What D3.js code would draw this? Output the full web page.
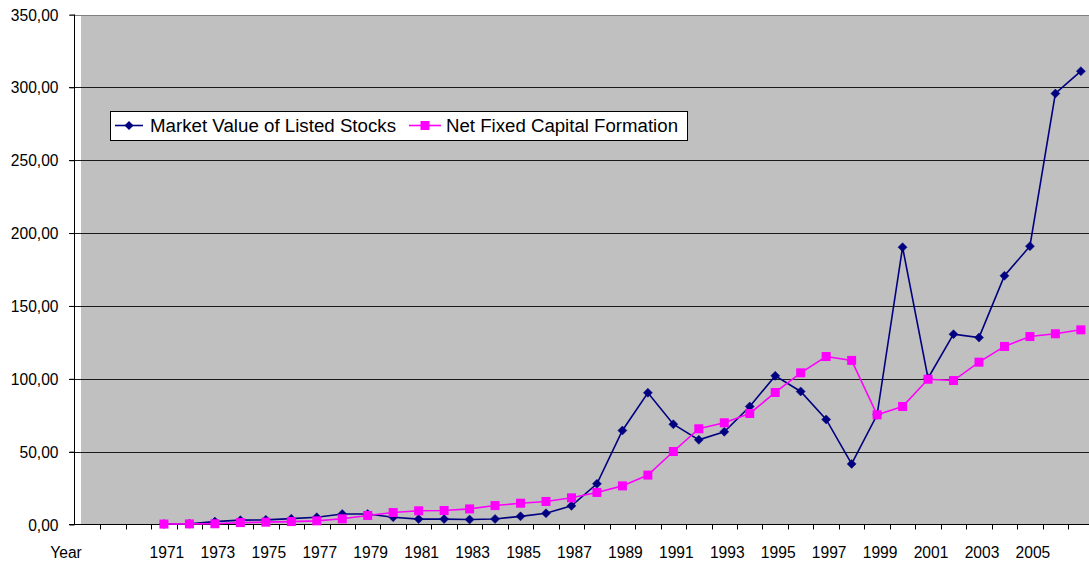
<!DOCTYPE html>
<html>
<head>
<meta charset="utf-8">
<script src="https://cdn.jsdelivr.net/npm/d3@7/dist/d3.min.js"></script>
<style>
  html, body { margin: 0; padding: 0; background: #fff; }
  svg { display: block; font-family: "Liberation Sans", Arial, sans-serif; }
</style>
</head>
<body>
<svg id="chart" width="1089" height="566"></svg>
<script>
// ---- data ----
const leadCategories = ["Year", "", ""];
const years = [1971,1972,1973,1974,1975,1976,1977,1978,1979,1980,
               1981,1982,1983,1984,1985,1986,1987,1988,1989,1990,
               1991,1992,1993,1994,1995,1996,1997,1998,1999,2000,
               2001,2002,2003,2004,2005,2006,2007];
const marketValue = [0.3,0.5,2.0,3.0,3.2,4.0,5.0,7.2,7.2,5.0,
                     3.7,3.7,3.4,3.8,5.6,7.7,12.8,27.9,64.5,90.4,
                     68.8,58.1,63.6,81.0,102.0,91.3,72.1,41.6,75.3,190.3,
                     100.4,130.6,128.3,170.7,191.0,295.8,311.1];
const netFixedCapital = [0.3,0.4,0.5,1.3,1.6,2.0,2.5,3.9,6.2,8.2,
                         9.4,9.6,10.7,13.0,14.6,15.8,18.3,22.0,26.5,33.9,
                         50.1,65.7,69.8,76.2,90.6,104.1,115.3,112.6,75.3,81.0,
                         99.7,98.8,111.4,122.2,129.0,130.9,133.6];
const yTicks = [0,50,100,150,200,250,300,350];
const seriesNames = ["Market Value of Listed Stocks", "Net Fixed Capital Formation"];
const xLabelYears = [1971,1973,1975,1977,1979,1981,1983,1985,1987,1989,1991,1993,1995,1997,1999,2001,2003,2005];

// ---- layout ----
const svg = d3.select("#chart");
const W = 1089, H = 566;
const axisX = 74.5, baseY = 524.5, topY = 14.5;
const catW = 25.47;
const categories = leadCategories.map((d,i)=> d === "" ? "_" + i : d).concat(years.map(String));

const x = d3.scaleBand().domain(categories).range([74.8, 74.8 + catW * categories.length]).padding(0);
const y = d3.scaleLinear().domain([0, 350]).range([baseY, topY]);
const cx = yr => x(String(yr)) + x.bandwidth() / 2;
const fmt = v => d3.format(".2f")(v).replace(".", ",");
const fs = 15.6;

svg.append("rect").attr("width", W).attr("height", H).attr("fill", "#fff");

// plot area fill
svg.append("rect").attr("x", 81).attr("y", 16).attr("width", W - 81).attr("height", baseY - 16)
   .attr("fill", "#c0c0c0");

// gridlines
svg.append("g").selectAll("line").data(yTicks.filter(t => t > 0)).join("line")
   .attr("x1", 69).attr("x2", W)
   .attr("y1", d => Math.round(y(d)) + 0.5).attr("y2", d => Math.round(y(d)) + 0.5)
   .attr("stroke", d => d === 350 ? "#808080" : "#1a1a1a").attr("stroke-width", 1);

// y axis
const yAxis = d3.axisLeft(y).tickValues(yTicks).tickSize(5).tickFormat(fmt);
const gy = svg.append("g").attr("transform", `translate(${axisX},0)`).call(yAxis);
gy.select(".domain").attr("stroke", "#000").attr("d", `M0,${topY}V${baseY}`);
gy.selectAll(".tick line").attr("stroke", "#000");
gy.selectAll(".tick text").attr("x", -16).attr("dy", "0.36em")
  .attr("font-size", fs).attr("font-family", "Liberation Sans, Arial, sans-serif").attr("fill", "#000");

// x axis line + ticks
svg.append("line").attr("x1", 69).attr("x2", W).attr("y1", baseY).attr("y2", baseY).attr("stroke", "#000");
svg.append("g").selectAll("line").data(categories.slice(1)).join("line")
   .attr("x1", d => Math.round(x(d)) + 0.5).attr("x2", d => Math.round(x(d)) + 0.5)
   .attr("y1", baseY).attr("y2", baseY + 5).attr("stroke", "#000");

// x labels
svg.append("g").selectAll("text").data(xLabelYears).join("text")
   .attr("x", d => cx(d) + 3).attr("y", 558)
   .attr("text-anchor", "middle").attr("font-size", fs).attr("fill", "#000")
   .text(d => d);
svg.append("text").attr("x", 66).attr("y", 558).attr("text-anchor", "middle")
   .attr("font-size", fs).attr("fill", "#000").text(leadCategories[0]);

// lines
const line = d3.line().x(d => cx(d[0])).y(d => y(d[1]));
const navy = "#000080", magenta = "#ff00ff";
const mData = years.map((yr,i) => [yr, marketValue[i]]);
const nData = years.map((yr,i) => [yr, netFixedCapital[i]]);

svg.append("path").datum(mData).attr("d", line).attr("fill", "none").attr("stroke", navy).attr("stroke-width", 1.6);
const diamond = s => `M0,${-s}L${s},0L0,${s}L${-s},0Z`;
svg.append("g").selectAll("path").data(mData).join("path")
   .attr("transform", d => `translate(${cx(d[0])},${y(d[1])})`)
   .attr("d", diamond(4.5)).attr("fill", navy).attr("stroke", navy).attr("stroke-width", 0.5);

svg.append("path").datum(nData).attr("d", line).attr("fill", "none").attr("stroke", magenta).attr("stroke-width", 1.6);
svg.append("g").selectAll("rect").data(nData).join("rect")
   .attr("x", d => cx(d[0]) - 4.5).attr("y", d => y(d[1]) - 4.5)
   .attr("width", 9).attr("height", 9).attr("fill", magenta);

// legend
const lg = svg.append("g");
lg.append("rect").attr("x", 110.5).attr("y", 111.5).attr("width", 577).attr("height", 29)
  .attr("fill", "#fff").attr("stroke", "#000").attr("stroke-width", 1);
const ly = 125.5;
lg.append("line").attr("x1", 115).attr("x2", 143).attr("y1", ly).attr("y2", ly).attr("stroke", navy).attr("stroke-width", 1.6);
lg.append("path").attr("transform", `translate(129,${ly})`).attr("d", diamond(4.5)).attr("fill", navy);
lg.append("text").attr("x", 150).attr("y", 132).attr("font-size", 18).attr("fill", "#000")
  .attr("textLength", 246).attr("lengthAdjust", "spacingAndGlyphs").text(seriesNames[0]);
lg.append("line").attr("x1", 409).attr("x2", 441).attr("y1", ly).attr("y2", ly).attr("stroke", magenta).attr("stroke-width", 1.6);
lg.append("rect").attr("x", 425 - 4.5).attr("y", ly - 4.5).attr("width", 9).attr("height", 9).attr("fill", magenta);
lg.append("text").attr("x", 446).attr("y", 132).attr("font-size", 18).attr("fill", "#000")
  .attr("textLength", 232).attr("lengthAdjust", "spacingAndGlyphs").text(seriesNames[1]);
</script>
</body>
</html>
